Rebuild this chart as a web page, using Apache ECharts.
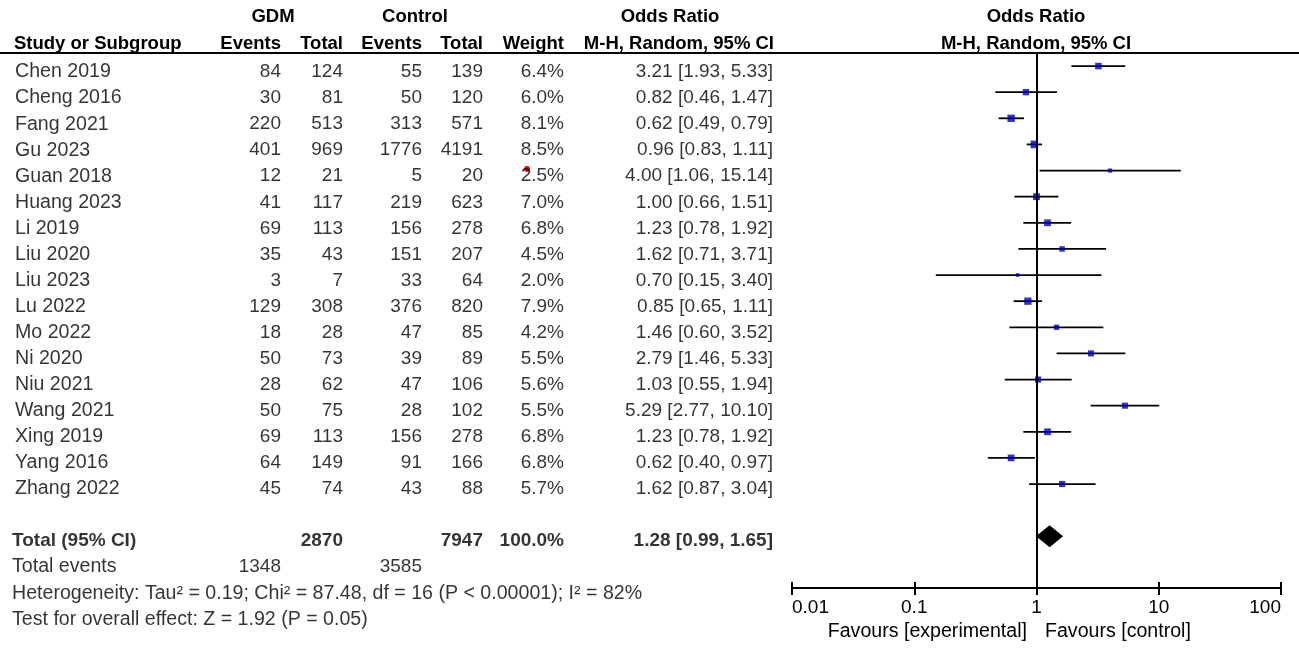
<!DOCTYPE html>
<html>
<head>
<meta charset="utf-8">
<script src="https://cdn.jsdelivr.net/npm/echarts@6/dist/echarts.min.js"></script>
<style>
html, body { margin: 0; padding: 0; background: #fff; }
#main { width: 1299px; height: 653px; }
</style>
</head>
<body>
<div id="main"></div>
<script>
// study data
var studies = ['Chen 2019', 'Cheng 2016', 'Fang 2021', 'Gu 2023', 'Guan 2018', 'Huang 2023', 'Li 2019',
  'Liu 2020', 'Liu 2023', 'Lu 2022', 'Mo 2022', 'Ni 2020', 'Niu 2021', 'Wang 2021', 'Xing 2019',
  'Yang 2016', 'Zhang 2022'];
var gdmEvents  = [84, 30, 220, 401, 12, 41, 69, 35, 3, 129, 18, 50, 28, 50, 69, 64, 45];
var gdmTotal   = [124, 81, 513, 969, 21, 117, 113, 43, 7, 308, 28, 73, 62, 75, 113, 149, 74];
var ctrlEvents = [55, 50, 313, 1776, 5, 219, 156, 151, 33, 376, 47, 39, 47, 28, 156, 91, 43];
var ctrlTotal  = [139, 120, 571, 4191, 20, 623, 278, 207, 64, 820, 85, 89, 106, 102, 278, 166, 88];
var weights    = [6.4, 6.0, 8.1, 8.5, 2.5, 7.0, 6.8, 4.5, 2.0, 7.9, 4.2, 5.5, 5.6, 5.5, 6.8, 6.8, 5.7];
var oddsRatio  = [3.21, 0.82, 0.62, 0.96, 4.00, 1.00, 1.23, 1.62, 0.70, 0.85, 1.46, 2.79, 1.03, 5.29, 1.23, 0.62, 1.62];
var ciLow      = [1.93, 0.46, 0.49, 0.83, 1.06, 0.66, 0.78, 0.71, 0.15, 0.65, 0.60, 1.46, 0.55, 2.77, 0.78, 0.40, 0.87];
var ciHigh     = [5.33, 1.47, 0.79, 1.11, 15.14, 1.51, 1.92, 3.71, 3.40, 1.11, 3.52, 5.33, 1.94, 10.10, 1.92, 0.97, 3.04];

// pooled result
var totalGdm = 2870, totalCtrl = 7947, totalWeight = '100.0%';
var eventsGdm = 1348, eventsCtrl = 3585;
var pooled = [1.28, 0.99, 1.65];
var heterogeneity = 'Heterogeneity: Tau² = 0.19; Chi² = 87.48, df = 16 (P < 0.00001); I² = 82%';
var overallTest = 'Test for overall effect: Z = 1.92 (P = 0.05)';
var axisTicks = ['0.01', '0.1', '1', '10', '100'];

var totalRow = 18, eventsRow = 19, hetRow = 20, testRow = 21;

var FONT = '"Liberation Sans", Arial, sans-serif';
var FS = 19;        // numbers
var FS_TXT = 19.6;  // words

var chart = echarts.init(document.getElementById('main'));

function fmtCI(o, l, h) {
  return o.toFixed(2) + ' [' + l.toFixed(2) + ', ' + h.toFixed(2) + ']';
}

// table columns: x in pixels of the table grid
var colX = { study: 15, foot: 12, ge: 281, gt: 343, ce: 422, ct: 483, w: 564, or: 773 };

function textSeries(x, align, items) {
  return {
    type: 'scatter',
    xAxisIndex: 0,
    yAxisIndex: 0,
    symbolSize: 0,
    silent: true,
    data: items.map(function (it) {
      var d = { value: [x, it.row, it.text] };
      d.label = {};
      if (it.bold) d.label.fontWeight = 'bold';
      if (it.size) d.label.fontSize = it.size;
      return d;
    }),
    label: {
      show: true,
      position: align === 'left' ? 'right' : 'left',
      distance: 0,
      color: '#000',
      fontFamily: FONT,
      fontSize: FS,
      formatter: function (p) { return p.data.value[2]; }
    }
  };
}

function rowsOf(arr, fn, size) {
  return arr.map(function (v, i) { return { row: i, text: fn ? fn(v, i) : String(v), size: size }; });
}

var studyCol = rowsOf(studies, null, FS_TXT);
var footCol = [
  { row: totalRow, text: 'Total (95% CI)', bold: true },
  { row: eventsRow, text: 'Total events', size: FS_TXT },
  { row: hetRow, text: heterogeneity, size: FS_TXT },
  { row: testRow, text: overallTest, size: FS_TXT }
];
var geCol = rowsOf(gdmEvents).concat([{ row: eventsRow, text: String(eventsGdm) }]);
var gtCol = rowsOf(gdmTotal).concat([{ row: totalRow, text: String(totalGdm), bold: true }]);
var ceCol = rowsOf(ctrlEvents).concat([{ row: eventsRow, text: String(eventsCtrl) }]);
var ctCol = rowsOf(ctrlTotal).concat([{ row: totalRow, text: String(totalCtrl), bold: true }]);
var wCol = rowsOf(weights, function (v) { return v.toFixed(1) + '%'; })
  .concat([{ row: totalRow, text: totalWeight, bold: true }]);
var orCol = rowsOf(oddsRatio, function (v, i) { return fmtCI(v, ciLow[i], ciHigh[i]); })
  .concat([{ row: totalRow, text: fmtCI(pooled[0], pooled[1], pooled[2]), bold: true }]);

var ciData = oddsRatio.map(function (v, i) { return [ciLow[i], ciHigh[i], i]; });
var markerData = oddsRatio.map(function (v, i) { return [v, i, weights[i]]; });

function txt(text, x, y, align, font) {
  return {
    type: 'text',
    silent: true,
    style: {
      text: text, x: x, y: y,
      font: font,
      fill: '#000',
      align: align, textAlign: align,
      verticalAlign: 'middle', textVerticalAlign: 'middle'
    }
  };
}
function hdr(text, x, y, align) { return txt(text, x, y, align, 'bold 18.5px ' + FONT); }
function plain(text, x, y, align) { return txt(text, x, y, align, FS_TXT + 'px ' + FONT); }

var option = {
  animation: false,
  backgroundColor: '#fff',
  grid: [
    { left: 0, width: 790, top: 53, height: 587 },
    { left: 792, right: 18, top: 53, bottom: 65 }
  ],
  xAxis: [
    { type: 'value', gridIndex: 0, min: 0, max: 790, show: false },
    {
      type: 'log', logBase: 10, gridIndex: 1, min: 0.01, max: 100, position: 'bottom',
      axisLine: { show: true, onZero: false, lineStyle: { color: '#000', width: 2 } },
      axisTick: { show: true, length: 7, lineStyle: { color: '#000', width: 2 } },
      splitLine: { show: false },
      axisLabel: {
        color: '#000', fontFamily: FONT, fontSize: FS, margin: 10,
        alignMinLabel: 'left', alignMaxLabel: 'right',
        formatter: function (v) {
          var k = Math.round(Math.log(v) / Math.LN10) + 2;
          return axisTicks[k] !== undefined ? axisTicks[k] : '';
        }
      }
    },
    {
      type: 'log', logBase: 10, gridIndex: 1, min: 0.01, max: 100, position: 'bottom',
      axisLine: { show: false, onZero: false },
      axisTick: { show: true, inside: true, length: 6, lineStyle: { color: '#000', width: 2 } },
      axisLabel: { show: false },
      splitLine: { show: false }
    }
  ],
  yAxis: [
    { type: 'value', gridIndex: 0, min: -0.73, max: 21.8, inverse: true, show: false },
    { type: 'value', gridIndex: 1, min: -0.5, max: 19.98, inverse: true, show: false }
  ],
  graphic: [
    hdr('GDM', 273, 17, 'center'),
    hdr('Control', 415, 17, 'center'),
    hdr('Odds Ratio', 670, 17, 'center'),
    hdr('Odds Ratio', 1036, 17, 'center'),
    hdr('Study or Subgroup', 14, 44, 'left'),
    hdr('Events', colX.ge, 44, 'right'),
    hdr('Total', colX.gt, 44, 'right'),
    hdr('Events', colX.ce, 44, 'right'),
    hdr('Total', colX.ct, 44, 'right'),
    hdr('Weight', colX.w, 44, 'right'),
    hdr('M-H, Random, 95% CI', 774, 44, 'right'),
    hdr('M-H, Random, 95% CI', 1036, 44, 'center'),
    {
      type: 'line', silent: true,
      shape: { x1: 0, y1: 53, x2: 1299, y2: 53 },
      style: { stroke: '#000', lineWidth: 2 }
    },
    plain('Favours [experimental]', 1027, 632, 'right'),
    plain('Favours [control]', 1045, 632, 'left'),
    { type: 'circle', silent: true, shape: { cx: 527, cy: 169, r: 3 }, style: { fill: '#e00' } }
  ],
  series: [
    textSeries(colX.study, 'left', studyCol),
    textSeries(colX.foot, 'left', footCol),
    textSeries(colX.ge, 'right', geCol),
    textSeries(colX.gt, 'right', gtCol),
    textSeries(colX.ce, 'right', ceCol),
    textSeries(colX.ct, 'right', ctCol),
    textSeries(colX.w, 'right', wCol),
    textSeries(colX.or, 'right', orCol),
    {
      type: 'custom',
      xAxisIndex: 1,
      yAxisIndex: 1,
      silent: true,
      encode: { x: [0, 1], y: 2 },
      data: ciData,
      renderItem: function (params, api) {
        var a = api.coord([api.value(0), api.value(2)]);
        var b = api.coord([api.value(1), api.value(2)]);
        return {
          type: 'line',
          shape: { x1: a[0], y1: a[1], x2: b[0], y2: b[1] },
          style: { stroke: '#000', lineWidth: 1.8 }
        };
      },
      markLine: {
        silent: true,
        symbol: 'none',
        label: { show: false },
        lineStyle: { color: '#000', width: 2, type: 'solid' },
        data: [{ xAxis: 1 }]
      },
      z: 3
    },
    {
      type: 'scatter',
      xAxisIndex: 1,
      yAxisIndex: 1,
      silent: true,
      symbol: 'rect',
      symbolSize: function (v) { return 2.6 * Math.sqrt(v[2]); },
      itemStyle: { color: '#0000b4' },
      data: markerData,
      z: 4
    },
    {
      type: 'custom',
      xAxisIndex: 1,
      yAxisIndex: 1,
      silent: true,
      encode: { x: [0, 1, 2], y: 3 },
      data: [[pooled[1], pooled[2], pooled[0], totalRow]],
      renderItem: function (params, api) {
        var row = api.value(3);
        var l = api.coord([api.value(0), row]);
        var r = api.coord([api.value(1), row]);
        var c = api.coord([api.value(2), row]);
        var h = 11;
        return {
          type: 'polygon',
          shape: { points: [[l[0], c[1]], [c[0], c[1] - h], [r[0], c[1]], [c[0], c[1] + h]] },
          style: { fill: '#000' }
        };
      },
      z: 4
    }
  ]
};

chart.setOption(option);
</script>
</body>
</html>
